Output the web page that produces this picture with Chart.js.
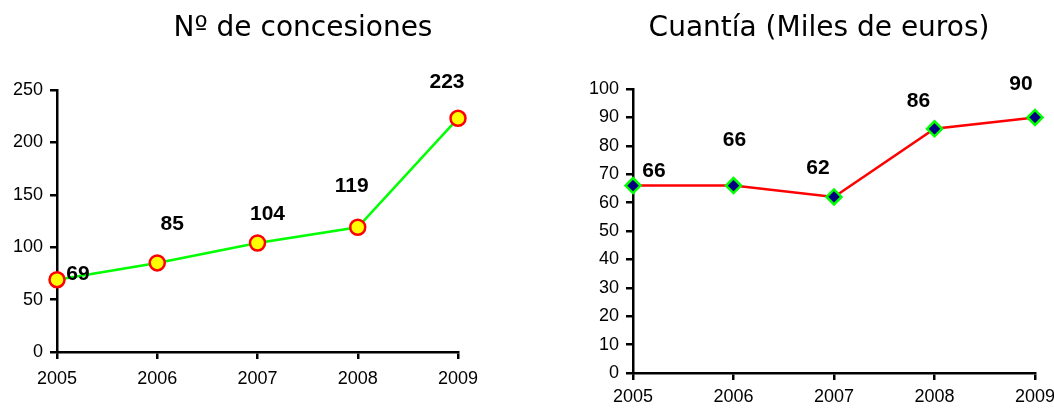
<!DOCTYPE html>
<html>
<head>
<meta charset="utf-8">
<script src="https://cdn.jsdelivr.net/npm/chart.js@4"></script>
<style>
  body { margin: 0; background: #fff; width: 1054px; height: 409px; overflow: hidden; position: relative; }
  .box { position: absolute; top: 0; width: 527px; height: 409px; }
  .title { position: absolute; top: 13px; font-family: "DejaVu Sans", Verdana, sans-serif; font-size: 28px; line-height: 28px; color: #000; white-space: nowrap; transform: translateX(-50%); }
</style>
</head>
<body>
<div class="box" style="left:0"><canvas id="chartConcesiones" width="527" height="409"></canvas></div>
<div class="box" style="left:527px"><canvas id="chartCuantia" width="527" height="409"></canvas></div>
<div class="title" style="left:303px">Nº de concesiones</div>
<div class="title" style="left:819px">Cuantía (Miles de euros)</div>
<script>
// Data
const years = ['2005', '2006', '2007', '2008', '2009'];
const concesiones = [69, 85, 104, 119, 223];
const cuantia = [66, 66, 62, 86, 90];

// label offsets (px) relative to each point, as placed in the original
const concesionesLabelOffsets = [[21, -5], [15, -39], [10, -29], [-6, -41], [-11, -36]];
const cuantiaLabelOffsets = [[21, -14], [1, -45], [-16, -29], [-16, -28], [-14, -33]];

Chart.defaults.animation = false;
Chart.defaults.font.family = '"Liberation Sans", Arial, sans-serif';
Chart.defaults.color = '#000';

// draws the bold value labels next to the points
const valueLabels = {
    id: 'valueLabels',
    afterDatasetsDraw(chart, args, opts) {
        const ctx = chart.ctx;
        const meta = chart.getDatasetMeta(0);
        const values = chart.data.datasets[0].data;
        ctx.save();
        ctx.font = 'bold 21px "Liberation Sans", Arial, sans-serif';
        ctx.fillStyle = '#000';
        ctx.textAlign = 'center';
        ctx.textBaseline = 'middle';
        meta.data.forEach((pt, i) => {
            const off = opts.offsets[i];
            ctx.fillText(values[i], pt.x + off[0], pt.y + off[1]);
        });
        ctx.restore();
    }
};

function makeChart(id, values, cfg) {
    return new Chart(document.getElementById(id), {
        type: 'line',
        data: {
            labels: years,
            datasets: [{
                data: values,
                borderColor: cfg.lineColor,
                borderWidth: 2.5,
                pointStyle: cfg.pointStyle,
                pointRadius: cfg.pointRadius,
                pointBackgroundColor: cfg.pointFill,
                pointBorderColor: cfg.pointBorder,
                pointBorderWidth: 2.5,
                tension: 0,
                clip: false
            }]
        },
        options: {
            responsive: false,
            layout: { padding: { top: cfg.top, left: 0, right: cfg.right, bottom: 0 } },
            plugins: {
                legend: { display: false },
                title: { display: false },
                tooltip: { enabled: false },
                valueLabels: { offsets: cfg.offsets }
            },
            scales: {
                x: {
                    offset: false,
                    grid: { drawOnChartArea: false, drawTicks: true, tickLength: 7, color: '#000', lineWidth: 2.5 },
                    border: { color: '#000', width: 2.5 },
                    ticks: { font: { size: 18 }, padding: cfg.xPad, maxRotation: 0, autoSkip: false },
                    afterFit(scale) {
                        scale.height = cfg.xHeight;
                        scale.paddingRight = 0;
                        scale.paddingLeft = 0;
                    }
                },
                y: {
                    min: 0,
                    max: cfg.yMax,
                    grid: { drawOnChartArea: false, drawTicks: true, tickLength: 7, color: '#000', lineWidth: 2.5 },
                    border: { color: '#000', width: 2.5 },
                    ticks: { stepSize: cfg.yStep, font: { size: 18 }, padding: 7 },
                    afterFit(scale) {
                        scale.width = cfg.yWidth;
                        scale.paddingTop = 0;
                        scale.paddingBottom = 0;
                    }
                }
            }
        },
        plugins: [valueLabels]
    });
}

makeChart('chartConcesiones', concesiones, {
    lineColor: '#00ff00', pointStyle: 'circle', pointRadius: 7.5,
    pointFill: '#ffff00', pointBorder: '#ff0000',
    top: 90, right: 69, xHeight: 57, yWidth: 57, xPad: 9,
    yMax: 250, yStep: 50, offsets: concesionesLabelOffsets
});

makeChart('chartCuantia', cuantia, {
    lineColor: '#ff0000', pointStyle: 'rectRot', pointRadius: 7.5,
    pointFill: '#000080', pointBorder: '#00ff00',
    top: 89, right: 19, xHeight: 36, yWidth: 106, xPad: 6,
    yMax: 100, yStep: 10, offsets: cuantiaLabelOffsets
});
</script>
</body>
</html>
